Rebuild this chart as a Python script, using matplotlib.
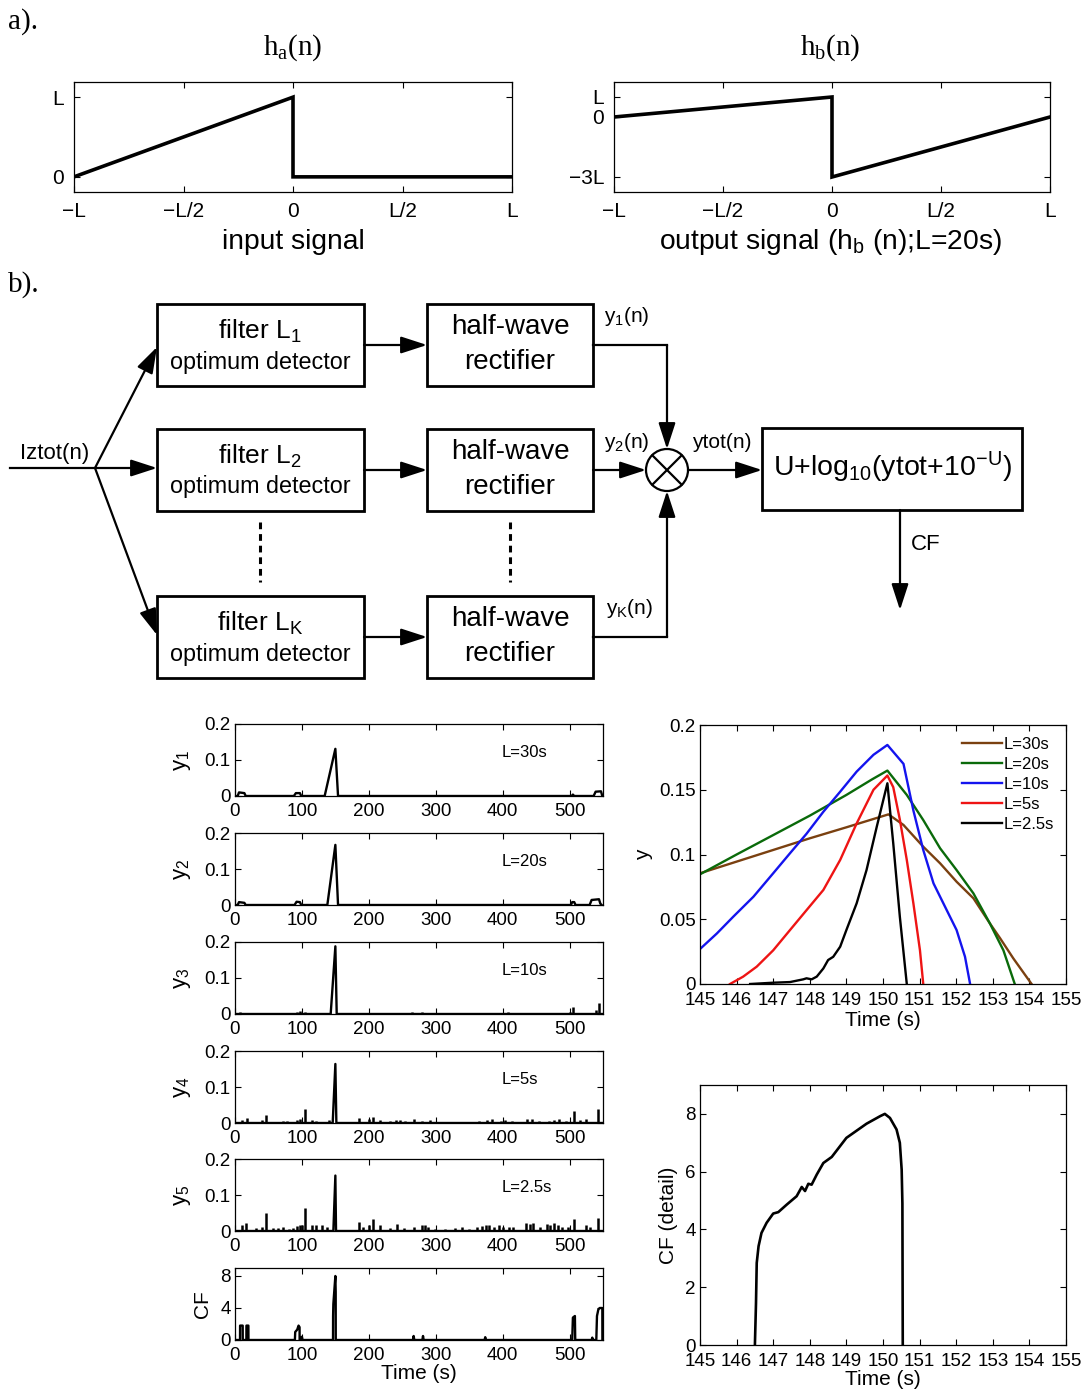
import matplotlib
matplotlib.use('Agg')
import matplotlib.pyplot as plt
from matplotlib.patches import Rectangle, Circle

W, H = 1087, 1396

# ---- panel a): template shapes (x and y in units of L) ----
ha_x = [-1, 0, 0, 1]
ha_y = [0, 1, 0, 0]
hb_x = [-1, 0, 0, 1]
hb_y = [0, 1, -3, 0]
a_xticks = [-1, -0.5, 0, 0.5, 1]
a_xticklabels = ['\u2212L', '\u2212L/2', '0', 'L/2', 'L']

# ---- left stack: filter outputs over the whole record ----
y1_t = [0, 4, 6, 14, 16, 88, 91, 97, 99, 134, 150, 154, 503, 505, 507, 536, 539, 547, 549]
y1_v = [0, 0, 0.010, 0.008, 0, 0, 0.008, 0.008, 0, 0, 0.131, 0, 0, 0.004, 0, 0, 0.012, 0.013, 0]
y2_t = [0, 4, 6, 14, 16, 89, 92, 97, 99, 138, 150, 154, 502, 504, 507, 509, 530, 533, 544, 546, 548]
y2_v = [0, 0, 0.008, 0.006, 0, 0, 0.009, 0.008, 0, 0, 0.167, 0, 0, 0.008, 0.008, 0, 0, 0.014, 0.016, 0.004, 0]
y3_t = [0, 143, 150, 152, 550]
y3_v = [0, 0, 0.188, 0, 0]
y3_st = [8, 18, 45, 93, 97, 104, 186, 232, 240, 265, 280, 333, 373, 380, 408, 500, 505, 540, 544]
y3_sv = [0.006, 0.004, 0.004, 0.006, 0.008, 0.005, 0.003, 0.004, 0.004, 0.006, 0.006, 0.004,
         0.004, 0.004, 0.006, 0.006, 0.02, 0.01, 0.03]
y4_t = [0, 146, 150, 151.5, 550]
y4_v = [0, 0, 0.164, 0, 0]
y4_st = [10, 18, 41, 46, 72, 77, 92, 97, 104, 115, 121, 140, 185, 200, 206, 217, 232, 240, 247, 254,
         267, 280, 292, 319, 339, 364, 377, 384, 397, 404, 414, 436, 444, 454, 469, 477, 484, 494,
         506, 516, 524, 543]
y4_sv = [0.008, 0.015, 0.008, 0.022, 0.005, 0.005, 0.008, 0.012, 0.040, 0.008, 0.005, 0.008, 0.015,
         0.010, 0.018, 0.008, 0.005, 0.008, 0.008, 0.005, 0.010, 0.006, 0.008, 0.004, 0.004, 0.006,
         0.008, 0.012, 0.006, 0.008, 0.006, 0.012, 0.010, 0.006, 0.006, 0.008, 0.010, 0.006, 0.032,
         0.008, 0.012, 0.038]
y5_t = [0, 147, 150, 151, 550]
y5_v = [0, 0, 0.154, 0, 0]
y5_st = [10, 17, 31, 41, 46, 57, 65, 72, 80, 87, 92, 97, 100, 105, 115, 121, 130, 137, 185, 192,
         200, 206, 217, 232, 242, 252, 267, 280, 284, 289, 299, 314, 329, 339, 349, 362, 369, 375,
         380, 387, 394, 400, 410, 415, 435, 441, 446, 456, 466, 471, 477, 482, 489, 497, 506, 524,
         531, 543]
y5_sv = [0.016, 0.021, 0.009, 0.012, 0.050, 0.009, 0.009, 0.012, 0.006, 0.009, 0.014, 0.016, 0.018,
         0.064, 0.016, 0.016, 0.016, 0.012, 0.024, 0.012, 0.016, 0.033, 0.018, 0.007, 0.019, 0.009,
         0.012, 0.016, 0.016, 0.012, 0.006, 0.006, 0.008, 0.012, 0.006, 0.010, 0.014, 0.018, 0.018,
         0.012, 0.016, 0.010, 0.012, 0.012, 0.022, 0.020, 0.022, 0.012, 0.020, 0.018, 0.022, 0.018,
         0.012, 0.010, 0.033, 0.016, 0.010, 0.036]
cf_t = [0, 7.5, 7.6, 11.5, 11.6, 17, 17.1, 20, 20.1, 89.5, 90, 93, 95, 96.5, 96.6, 99, 100, 101,
        146.5, 146.6, 147, 150, 150.5, 150.6, 266, 267, 268, 280, 281, 282, 373, 374, 375, 504, 505,
        508, 508.5, 533, 534, 535, 540, 541, 543, 545, 549, 549.1]
cf_v = [0, 0, 1.8, 1.8, 0, 0, 1.8, 1.8, 0, 0, 1.0, 1.3, 1.8, 1.6, 0, 0, 0.4, 0, 0, 3.0, 4.5, 8.0,
        6.0, 0, 0, 0.5, 0, 0, 0.5, 0, 0, 0.35, 0, 0, 2.8, 3.0, 0, 0, 0.3, 0, 0, 3.0, 3.8, 4.0, 4.0, 0]
stack_labels = ['L=30s', 'L=20s', 'L=10s', 'L=5s', 'L=2.5s']

# ---- right top: zoom on the event, one curve per filter length ----
t30 = [145, 146, 147, 148, 149, 150.15, 150.56, 151.10, 151.56, 152.01, 152.47, 152.92, 153.2, 153.56, 154.06]
v30 = [0.0855, 0.0945, 0.1035, 0.1125, 0.121, 0.131, 0.1228, 0.106, 0.0932, 0.079, 0.0662, 0.0468, 0.0353, 0.0198, 0]
t20 = [145, 146, 147, 148, 149, 149.7, 150.12, 150.65, 151.1, 151.56, 152.01, 152.47, 152.92, 153.29, 153.6]
v20 = [0.0847, 0.100, 0.115, 0.130, 0.146, 0.158, 0.1648, 0.146, 0.1266, 0.1048, 0.088, 0.070, 0.0468, 0.026, 0]
t10 = [145, 145.46, 145.91, 146.46, 147.0, 147.46, 147.91, 148.37, 148.83, 149.28, 149.74, 150.12,
       150.56, 150.83, 151.10, 151.38, 151.74, 152.01, 152.24, 152.38]
v10 = [0.027, 0.039, 0.052, 0.0674, 0.0855, 0.101, 0.116, 0.133, 0.1485, 0.164, 0.177, 0.1846,
       0.170, 0.134, 0.1035, 0.0777, 0.0571, 0.0417, 0.0211, 0]
t5 = [145.82, 146.18, 146.55, 147.0, 147.46, 147.91, 148.37, 148.83, 149.28, 149.74, 150.12, 150.28,
      150.46, 150.65, 150.83, 151.01, 151.1]
v5 = [0, 0.0057, 0.0134, 0.026, 0.0417, 0.057, 0.0726, 0.0958, 0.124, 0.15, 0.161, 0.152, 0.127,
      0.0958, 0.0623, 0.026, 0]
t25 = [146.37, 147.0, 147.46, 147.82, 147.91, 148.05, 148.19, 148.37, 148.5, 148.64, 148.83, 149.0,
       149.28, 149.55, 149.83, 150.12, 150.28, 150.46, 150.65]
v25 = [0, 0.001, 0.0015, 0.0036, 0.0044, 0.0036, 0.0057, 0.012, 0.0185, 0.021, 0.0288, 0.0417,
       0.0623, 0.088, 0.1215, 0.155, 0.1086, 0.052, 0]
zoom_labels = ['L=30s', 'L=20s', 'L=10s', 'L=5s', 'L=2.5s']
zoom_colors = ['#7a4010', '#0a6a0a', '#1414ee', '#ee1414', 'k']

# ---- right bottom: CF detail ----
cfd_t = [146.5, 146.53, 146.55, 146.6, 146.68, 146.82, 147.0, 147.14, 147.37, 147.64, 147.78, 147.87,
         147.96, 148.05, 148.19, 148.37, 148.6, 149.0, 149.55, 149.92, 150.05, 150.19, 150.37, 150.46,
         150.51, 150.53, 150.54]
cfd_v = [0, 1.45, 2.84, 3.42, 3.88, 4.23, 4.55, 4.6, 4.86, 5.15, 5.47, 5.33, 5.58, 5.55, 5.9, 6.3,
         6.51, 7.17, 7.66, 7.92, 8.0, 7.86, 7.46, 7.0, 6.07, 4.9, 0]

plt.rcParams['font.family'] = ['Liberation Sans', 'DejaVu Sans']
plt.rcParams['mathtext.default'] = 'regular'
SERIF = ['Liberation Serif', 'DejaVu Serif']
TICK = 13.5
LAB = 15


def rect(x0, y0, x1, y1):
    return [x0 / W, 1 - y1 / H, (x1 - x0) / W, (y1 - y0) / H]


def matlab_ticks(ax, size, pad=4, xpad=None):
    ax.tick_params(direction='in', top=True, right=True, length=4, width=0.8,
                   labelsize=size, pad=pad)
    if xpad is not None:
        ax.tick_params(axis='x', pad=xpad)
    for s in ax.spines.values():
        s.set_linewidth(0.9)


fig = plt.figure(figsize=(W / 100, H / 100), dpi=100)

# background axes in pixel coordinates for the block diagram and panel letters
d = fig.add_axes([0, 0, 1, 1])
d.set_xlim(0, W); d.set_ylim(H, 0); d.axis('off')

d.text(8, 22, 'a).', family=SERIF, fontsize=21, va='center')
d.text(8, 285, 'b).', family=SERIF, fontsize=21, va='center')

# ---- panel a) ----
for box, xs, ys, ylim, yt, ytl, title, xlab, tx in [
        ((74, 82, 512, 192), ha_x, ha_y, (-0.19, 1.19), [0, 1], ['0', 'L'],
         'h$_a$(n)', 'input signal', 293),
        ((614, 82, 1050, 192), hb_x, hb_y, (-3.75, 1.75), [-3, 0, 1], ['\u22123L', '0', 'L'],
         'h$_b$(n)', 'output signal (h$_b$ (n);L=20s)', 830)]:
    ax = fig.add_axes(rect(*box))
    ax.plot(xs, ys, color='k', lw=2.6, solid_joinstyle='miter')
    ax.set_xlim(-1, 1); ax.set_ylim(*ylim)
    ax.set_xticks(a_xticks, a_xticklabels)
    ax.set_yticks(yt, ytl)
    matlab_ticks(ax, 15, pad=7)
    d.text(tx, 48, title, family=SERIF, fontsize=21, ha='center', va='center')
    d.text(tx, 242, xlab, fontsize=20.3, ha='center', va='center')

# ---- panel b) block diagram ----
LW = 1.6
rows = [(304, 386, '1', 'y$_1$(n)'), (429, 511, '2', 'y$_2$(n)'), (596, 678, 'K', 'y$_K$(n)')]
arrow = dict(arrowstyle='-|>,head_length=0.8,head_width=0.26', color='k', lw=LW,
             mutation_scale=20, shrinkA=0, shrinkB=0)
cx, cy, r = 667, 470, 21
bx, by = 95, 468
d.plot([10, bx], [by, by], color='k', lw=LW)
d.text(55, 453, 'Iztot(n)', fontsize=16, ha='center', va='center')
tips = [(157, 347), (157, 468), (157, 635)]
for (top, bot, k, ylab), tip in zip(rows, tips):
    mid = (top + bot) / 2
    d.add_patch(Rectangle((157, top), 207, bot - top, fill=False, lw=2, ec='k'))
    d.add_patch(Rectangle((427, top), 166, bot - top, fill=False, lw=2, ec='k'))
    d.text(260, top + 27, 'filter L$_{%s}$' % k, fontsize=19, ha='center', va='center')
    d.text(260, top + 58, 'optimum detector', fontsize=16.8, ha='center', va='center')
    d.text(510, top + 23, 'half-wave', fontsize=20, ha='center', va='center')
    d.text(510, top + 58, 'rectifier', fontsize=20, ha='center', va='center')
    d.annotate('', xy=tip, xytext=(bx, by), arrowprops=arrow)
    d.annotate('', xy=(427, mid), xytext=(364, mid), arrowprops=arrow)
    d.text(627 if k != 'K' else 630, top + 12 if k != '2' else 442, ylab,
           fontsize=15, ha='center', va='center')

# y1 and yK routes into the multiplier
d.plot([593, cx], [345, 345], color='k', lw=LW)
d.annotate('', xy=(cx, cy - r), xytext=(cx, 345), arrowprops=arrow)
d.annotate('', xy=(cx - r, cy), xytext=(593, cy), arrowprops=arrow)
d.plot([593, cx], [637, 637], color='k', lw=LW)
d.annotate('', xy=(cx, cy + r), xytext=(cx, 637), arrowprops=arrow)
d.add_patch(Circle((cx, cy), r, fill=False, lw=LW, ec='k'))
q = r * 0.7
d.plot([cx - q, cx + q], [cy - q, cy + q], color='k', lw=LW)
d.plot([cx - q, cx + q], [cy + q, cy - q], color='k', lw=LW)
d.annotate('', xy=(762, cy), xytext=(cx + r, cy), arrowprops=arrow)
d.text(722, 443, 'ytot(n)', fontsize=15, ha='center', va='center')
d.add_patch(Rectangle((762, 428), 260, 82, fill=False, lw=2, ec='k'))
d.text(893, 467, 'U+log$_{10}$(ytot+10$^{-U}$)', fontsize=20.5, ha='center', va='center')
d.annotate('', xy=(900, 610), xytext=(900, 510), arrowprops=arrow)
d.text(926, 545, 'CF', fontsize=16, ha='center', va='center')
for x in (260, 510):
    d.plot([x, x], [522, 582], color='k', lw=2.2, ls=(0, (2.2, 1.6)))

# ---- left stack of six panels ----
tops = [724, 833, 942, 1051, 1159, 1268]
series = [(y1_t, y1_v, None, None), (y2_t, y2_v, None, None), (y3_t, y3_v, y3_st, y3_sv),
          (y4_t, y4_v, y4_st, y4_sv), (y5_t, y5_v, y5_st, y5_sv), (cf_t, cf_v, None, None)]
for i, (top, (ts, vs, st, sv)) in enumerate(zip(tops, series)):
    ax = fig.add_axes(rect(235, top, 603, top + 72))
    ax.plot(ts, vs, color='k', lw=1.7)
    if st is not None:
        ax.vlines(st, 0, sv, color='k', lw=1.8)
    ax.set_xlim(0, 550)
    ax.set_xticks([0, 100, 200, 300, 400, 500])
    matlab_ticks(ax, TICK, pad=3, xpad=5)
    if i < 5:
        ax.set_ylim(0, 0.2)
        ax.set_yticks([0, 0.1, 0.2], ['0', '0.1', '0.2'])
        ax.set_ylabel('y$_%d$' % (i + 1), fontsize=16)
        ax.yaxis.set_label_coords(-0.114, 0.5)
        ax.text(0.725, 0.6, stack_labels[i], transform=ax.transAxes, fontsize=12, va='center')
    else:
        ax.set_ylim(0, 9)
        ax.set_yticks([0, 4, 8])
        ax.set_ylabel('CF', fontsize=LAB)
        ax.yaxis.set_label_coords(-0.062, 0.5)
        ax.set_xlabel('Time (s)', fontsize=LAB, labelpad=0)

# ---- right top: detail of the five filter outputs ----
ax = fig.add_axes(rect(700, 725, 1066, 984))
for ts, vs, lab, c in zip([t30, t20, t10, t5, t25], [v30, v20, v10, v5, v25], zoom_labels, zoom_colors):
    ax.plot(ts, vs, color=c, lw=1.7, label=lab)
ax.set_xlim(145, 155); ax.set_ylim(0, 0.2)
ax.set_xticks(range(145, 156))
ax.set_yticks([0, 0.05, 0.1, 0.15, 0.2], ['0', '0.05', '0.1', '0.15', '0.2'])
matlab_ticks(ax, TICK, pad=3, xpad=6)
ax.set_xlabel('Time (s)', fontsize=LAB, labelpad=1)
ax.set_ylabel('y', fontsize=LAB)
ax.yaxis.set_label_coords(-0.128, 0.5)
ax.legend(loc='upper right', frameon=False, fontsize=12, handlelength=2.4, handletextpad=0.1,
          labelspacing=0.3, borderaxespad=0.5, borderpad=0.2)

# ---- right bottom: CF detail ----
ax = fig.add_axes(rect(700, 1085, 1066, 1345))
ax.plot(cfd_t, cfd_v, color='k', lw=1.9)
ax.set_xlim(145, 155); ax.set_ylim(0, 9)
ax.set_xticks(range(145, 156))
ax.set_yticks([0, 2, 4, 6, 8])
matlab_ticks(ax, TICK, pad=3, xpad=6)
ax.set_xlabel('Time (s)', fontsize=LAB, labelpad=0)
ax.set_ylabel('CF (detail)', fontsize=LAB)
ax.yaxis.set_label_coords(-0.06, 0.5)

fig.savefig('out.png', dpi=100)
